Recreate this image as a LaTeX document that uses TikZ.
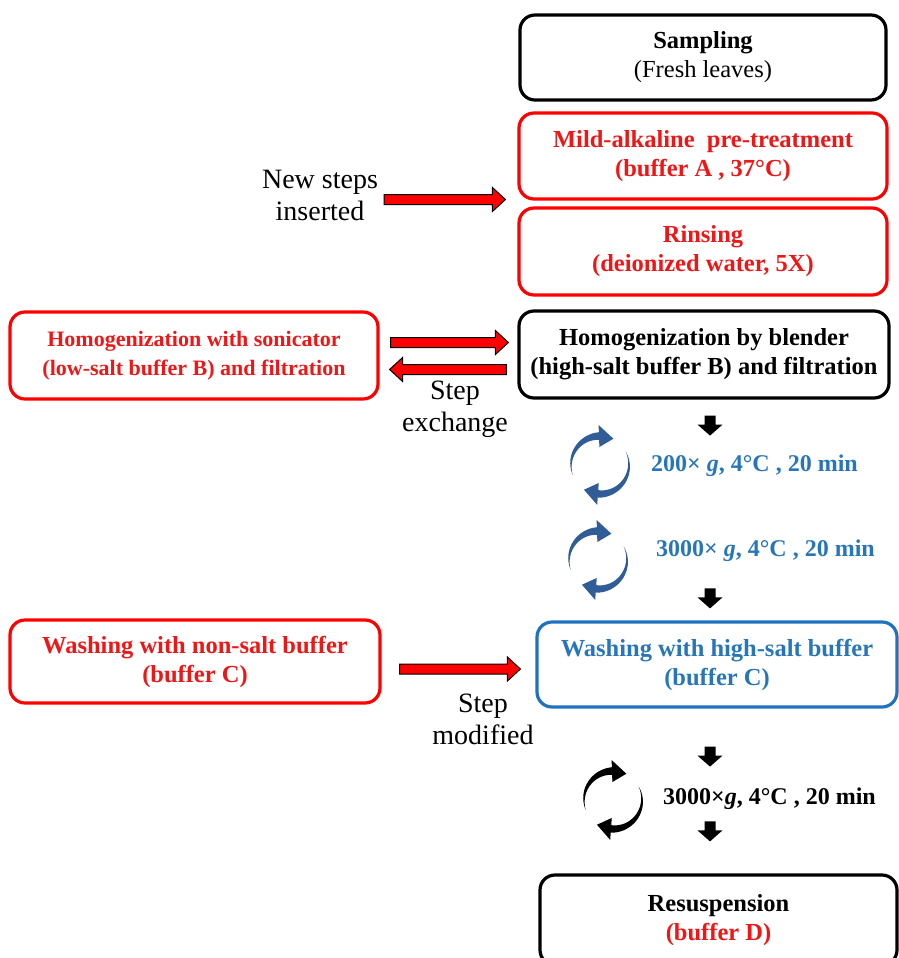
\documentclass[tikz,border=0pt]{standalone}
\usepackage{fontspec}
\setmainfont{Liberation Serif}
\usetikzlibrary{calc}
\definecolor{myred}{RGB}{255,0,0}
\definecolor{txtred}{RGB}{238,22,22}
\definecolor{boxblue}{RGB}{30,114,192}
\definecolor{txtblue}{RGB}{40,118,186}
\definecolor{rotblue}{RGB}{48,92,152}

\newcommand\blockR[2]{\draw[blockarrow] let \p1=#1, \p2=#2 in
  (\x1,\y2+5pt) -- (\x2-13pt,\y2+5pt) -- (\x2-13pt,\y2+12pt) -- (\x2,\y2) --
  (\x2-13pt,\y2-12pt) -- (\x2-13pt,\y2-5pt) -- (\x1,\y2-5pt) -- cycle;}
\newcommand\blockL[2]{\draw[blockarrow] let \p1=#1, \p2=#2 in
  (\x1,\y2+5pt) -- (\x2+13pt,\y2+5pt) -- (\x2+13pt,\y2+12pt) -- (\x2,\y2) --
  (\x2+13pt,\y2-12pt) -- (\x2+13pt,\y2-5pt) -- (\x1,\y2-5pt) -- cycle;}
\newcommand\blockD[1]{\fill[black] let \p1=#1 in
  (\x1-5.5pt,\y1) -- (\x1+5.5pt,\y1) -- (\x1+5.5pt,\y1-9pt) -- (\x1+12.5pt,\y1-9pt) --
  (\x1,\y1-20pt) -- (\x1-12.5pt,\y1-9pt) -- (\x1-5.5pt,\y1-9pt) -- cycle;}
\newcommand\rotarr[3]{\begin{scope}[shift={(#1,#2)}]
  \fill[#3] plot[domain=200:92,samples=30] ({(29+3.8*(200-\x)/108)*cos(\x)},{-(29+3.8*(200-\x)/108)*sin(\x)})
    -- plot[domain=92:200,samples=30] ({(29-3.8*(200-\x)/108)*cos(\x)},{-(29-3.8*(200-\x)/108)*sin(\x)}) -- cycle;
  \fill[#3] ({40*cos(92)},{-40*sin(92)}) -- ({29.5*cos(63)},{-29.5*sin(63)}) -- ({18*cos(92)},{-18*sin(92)}) -- cycle;
  \fill[#3] plot[domain=28:-94,samples=30] ({(29+3.8*(28-\x)/122)*cos(\x)},{-(29+3.8*(28-\x)/122)*sin(\x)})
    -- plot[domain=-94:28,samples=30] ({(29-3.8*(28-\x)/122)*cos(\x)},{-(29-3.8*(28-\x)/122)*sin(\x)}) -- cycle;
  \fill[#3] ({40*cos(-94)},{-40*sin(-94)}) -- ({29.5*cos(-123)},{-29.5*sin(-123)}) -- ({18*cos(-94)},{-18*sin(-94)}) -- cycle;
\end{scope}}

\begin{document}
\begin{tikzpicture}[x=1pt,y=-1pt,
  box/.style={draw, rounded corners=15pt, line width=3.2pt, align=center, inner sep=0pt,
    font=\fontsize{24.5}{29}\selectfont\bfseries},
  anno/.style={align=center, inner sep=0pt, font=\fontsize{28}{32}\selectfont},
  cent/.style={anchor=west, inner sep=0pt, font=\fontsize{24}{28}\selectfont\bfseries},
  blockarrow/.style={fill=myred, draw=black, line width=1pt, line join=miter}]
\useasboundingbox (0,0) rectangle (899,958);
\clip (0,0) rectangle (899,958);

% right column
\node[box, minimum width=366, minimum height=85] (samp) at (703, 57.5)
  {Sampling\\\mdseries(Fresh leaves)};
\node[box, draw=myred, text=txtred, minimum width=368, minimum height=86] (mild) at (703, 156)
  {Mild-alkaline\ \ pre-treatment\\(buffer A , 37°C)};
\node[box, draw=myred, text=txtred, minimum width=368, minimum height=87] (rins) at (703, 251.5)
  {Rinsing\\(deionized water, 5X)};
\node[box, minimum width=370, minimum height=87] (blend) at (704, 354.5)
  {Homogenization by blender\\(high-salt buffer B) and filtration};
\node[box, draw=boxblue, text=txtblue, minimum width=360, minimum height=85] (high) at (717, 664.5)
  {Washing with high-salt buffer\\(buffer C)};
\node[box, minimum width=357, minimum height=90] (resus) at (718.5, 920)
  {Resuspension\\\textcolor{txtred}{(buffer D)}};

% left column
\node[box, draw=myred, text=txtred, minimum width=368, minimum height=87,
  font=\fontsize{22}{29}\selectfont\bfseries] (sonic) at (194, 355.5)
  {Homogenization with sonicator\\(low-salt buffer B) and filtration};
\node[box, draw=myred, text=txtred, minimum width=370, minimum height=83] (nons) at (195, 661.5)
  {Washing with non-salt buffer\\(buffer C)};

% annotations
\node[anno] (news) at (320, 195) {New steps\\inserted};
\node[anno] (exch) at (455, 409) {Step\\exchange};
\node[anno] (modi) at (483, 719) {Step\\modified};

% red block arrows
\coordinate (gap) at ($(mild.south west)!0.5!(rins.north west)+(-12,-4)$);
\coordinate (t1) at ([xshift=6pt]news.east |- gap);
\blockR{(t1)}{(gap)}
\coordinate (e1s) at ($(sonic.east)+(11,-13)$);
\coordinate (e1e) at ($(blend.west)+(-9,-12)$);
\blockR{(e1s)}{(e1e)}
\coordinate (e2s) at ($(blend.west)+(-11,15)$);
\coordinate (e2e) at ($(sonic.east)+(10,14)$);
\blockL{(e2s)}{(e2e)}
\coordinate (m1s) at ($(nons.east)+(18,7.5)$);
\coordinate (m1e) at ($(high.west)+(-15,4.5)$);
\blockR{(m1s)}{(m1e)}

% black down arrows
\coordinate (d1) at ($(blend.south)+(6,16)$);
\coordinate (d2) at ($(high.north)+(-7,-32)$);
\coordinate (d3) at ($(high.south)+(-7,38)$);
\coordinate (d4) at ($(resus.north)+(-8.5,-52)$);
\blockD{(d1)}
\blockD{(d2)}
\blockD{(d3)}
\blockD{(d4)}

% centrifugation steps
\rotarr{600}{465}{rotblue}
\rotarr{598}{560}{rotblue}
\rotarr{613}{800}{black}
\node[cent, text=txtblue] (c1) at (651, 466) {200× \textit{g}, 4°C , 20 min};
\node[cent, text=txtblue] (c2) at (656, 551) {3000× \textit{g}, 4°C , 20 min};
\node[cent] (c3) at (663, 799) {3000×\textit{g}, 4°C , 20 min};
\end{tikzpicture}
\end{document}
